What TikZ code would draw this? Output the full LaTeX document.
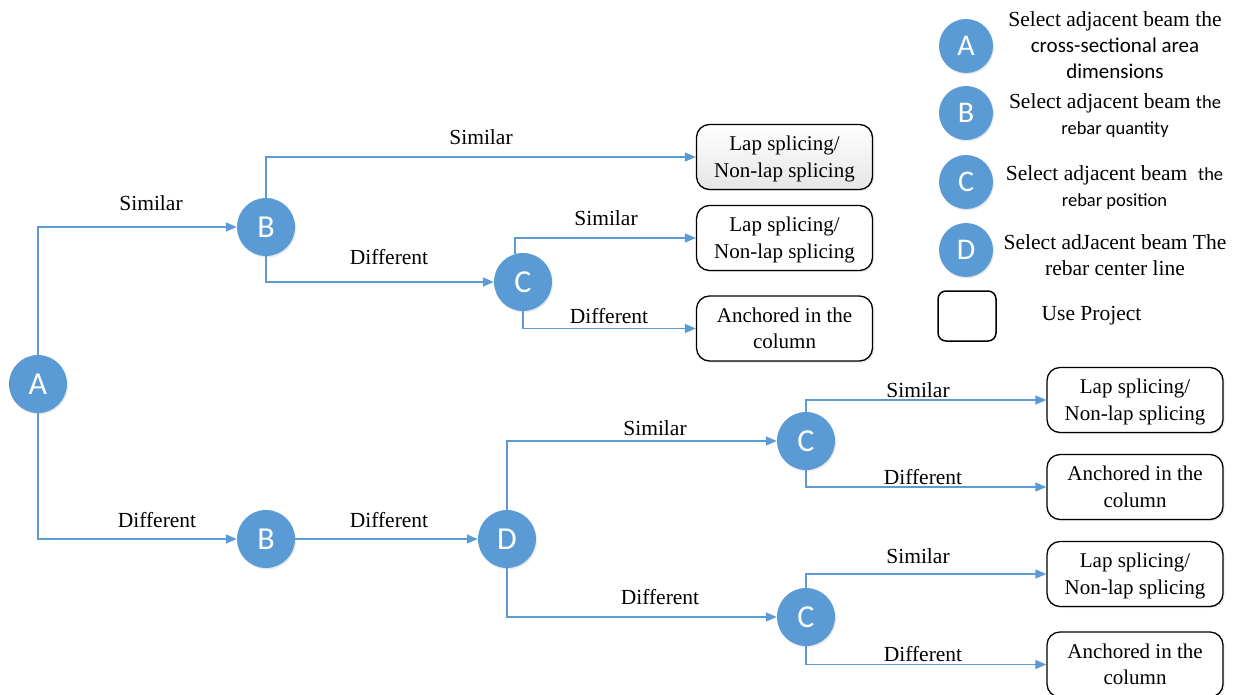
\documentclass[tikz,border=0pt]{standalone}
\usepackage{fontspec}
\setmainfont{Liberation Serif}
\newfontfamily\carl{Carlito}
\usetikzlibrary{arrows.meta,shadows}
\definecolor{cblue}{RGB}{91,155,213}
\newcommand{\lapsplice}{\rule{0pt}{19pt}Lap splicing/\\Non-lap splicing}
\newcommand{\anchcol}{Anchored in the\\column}
\begin{document}
\begin{tikzpicture}[x=1pt,y=-1pt,
  circ/.style={circle,fill=cblue,minimum size=58pt,inner sep=0pt,text=white,
    font=\carl\fontsize{32}{32}\selectfont,
    drop shadow={opacity=0.18,shadow xshift=1pt,shadow yshift=-1.5pt}},
  lcirc/.style={circ,minimum size=54pt,font=\carl\fontsize{30}{30}\selectfont},
  outbox/.style={draw=black,line width=1.3pt,rounded corners=13pt,fill=white,
    minimum width=176pt,minimum height=65pt,align=center,inner sep=2pt,
    font=\fontsize{21}{26.5}\selectfont,
    drop shadow={opacity=0.2,shadow xshift=1.5pt,shadow yshift=-1.5pt}},
  lbl/.style={font=\fontsize{21.5}{26}\selectfont,inner sep=0pt},
  legtxt/.style={font=\fontsize{21.5}{26}\selectfont,align=center,inner sep=0pt},
  conn/.style={draw=cblue,line width=1.5pt,-{Triangle[length=11pt,width=9pt]}}
]
\useasboundingbox (0,0) rectangle (1234,695);
% main circles
\node[circ] (A) at (38,384) {A};
\node[circ] (B1) at (266,227) {B};
\node[circ] (C1) at (523,282) {C};
\node[circ] (B2) at (266,539) {B};
\node[circ] (D) at (507,539) {D};
\node[circ] (C2) at (806,441) {C};
\node[circ] (C3) at (806,617) {C};
% result boxes
\node[outbox,top color=white,bottom color=black!10] (b1) at (784.5,157) {\lapsplice};
\node[outbox] (b2) at (784.5,238) {\lapsplice};
\node[outbox] (b3) at (784.5,328.5) {\anchcol};
\node[outbox] (b4) at (1135,400) {\lapsplice};
\node[outbox] (b5) at (1135,487) {\anchcol};
\node[outbox] (b6) at (1135,574) {\lapsplice};
\node[outbox] (b7) at (1135,664.5) {\anchcol};
% connectors
\draw[conn] (A.north) |- (B1.west);
\draw[conn] (A.south) |- (B2.west);
\draw[conn] (B1.north) |- (b1.west);
\draw[conn] (B1.south) |- (C1.west);
\draw[conn] (C1.106) |- (b2.west);
\draw[conn] (C1.south) |- (b3.west);
\draw[conn] (B2.east) -- (D.west);
\draw[conn] (D.north) |- (C2.west);
\draw[conn] (D.south) |- (C3.west);
\draw[conn] (C2.north) |- (b4.west);
\draw[conn] (C2.south) |- (b5.west);
\draw[conn] (C3.north) |- (b6.west);
\draw[conn] (C3.south) |- (b7.west);
% labels
\node[lbl] (l1) at (151,203) {Similar};
\node[lbl] (l2) at (157,520) {Different};
\node[lbl] (l3) at (481,137) {Similar};
\node[lbl] (l4) at (389,257) {Different};
\node[lbl] (l5) at (606,218) {Similar};
\node[lbl] (l6) at (609,316) {Different};
\node[lbl] (l7) at (389,520) {Different};
\node[lbl] (l8) at (655,428) {Similar};
\node[lbl] (l9) at (660,597) {Different};
\node[lbl] (l10) at (918,390) {Similar};
\node[lbl] (l11) at (923,477) {Different};
\node[lbl] (l12) at (918,556) {Similar};
\node[lbl] (l13) at (923,654) {Different};
% legend
\node[lcirc] (LA) at (966,46) {A};
\node[lcirc] (LB) at (966,113) {B};
\node[lcirc] (LC) at (966,182) {C};
\node[lcirc] (LD) at (966,250) {D};
\node[legtxt] (tA) at (1115,45) {Select adjacent beam the\\{\carl\fontsize{21}{26}\selectfont cross-sectional area}\\{\carl\fontsize{21}{26}\selectfont dimensions}};
\node[legtxt] (tB) at (1115,116) {Select adjacent beam {\carl\fontsize{18.5}{26}\selectfont the}\\{\carl\fontsize{18.5}{26}\selectfont rebar quantity}};
\node[legtxt] (tC) at (1114.5,188) {Select adjacent beam \ {\carl\fontsize{18.5}{26}\selectfont the}\\{\carl\fontsize{18.5}{26}\selectfont rebar position}};
\node[legtxt] (tD) at (1115,255) {Select adJacent beam The\\rebar center line};
\node[draw=black,line width=1.5pt,rounded corners=8pt,minimum width=58pt,minimum height=50pt] (LP) at (967,316) {};
\node[lbl] (tP) at (1091.5,316) {Use Project};
\end{tikzpicture}
\end{document}
